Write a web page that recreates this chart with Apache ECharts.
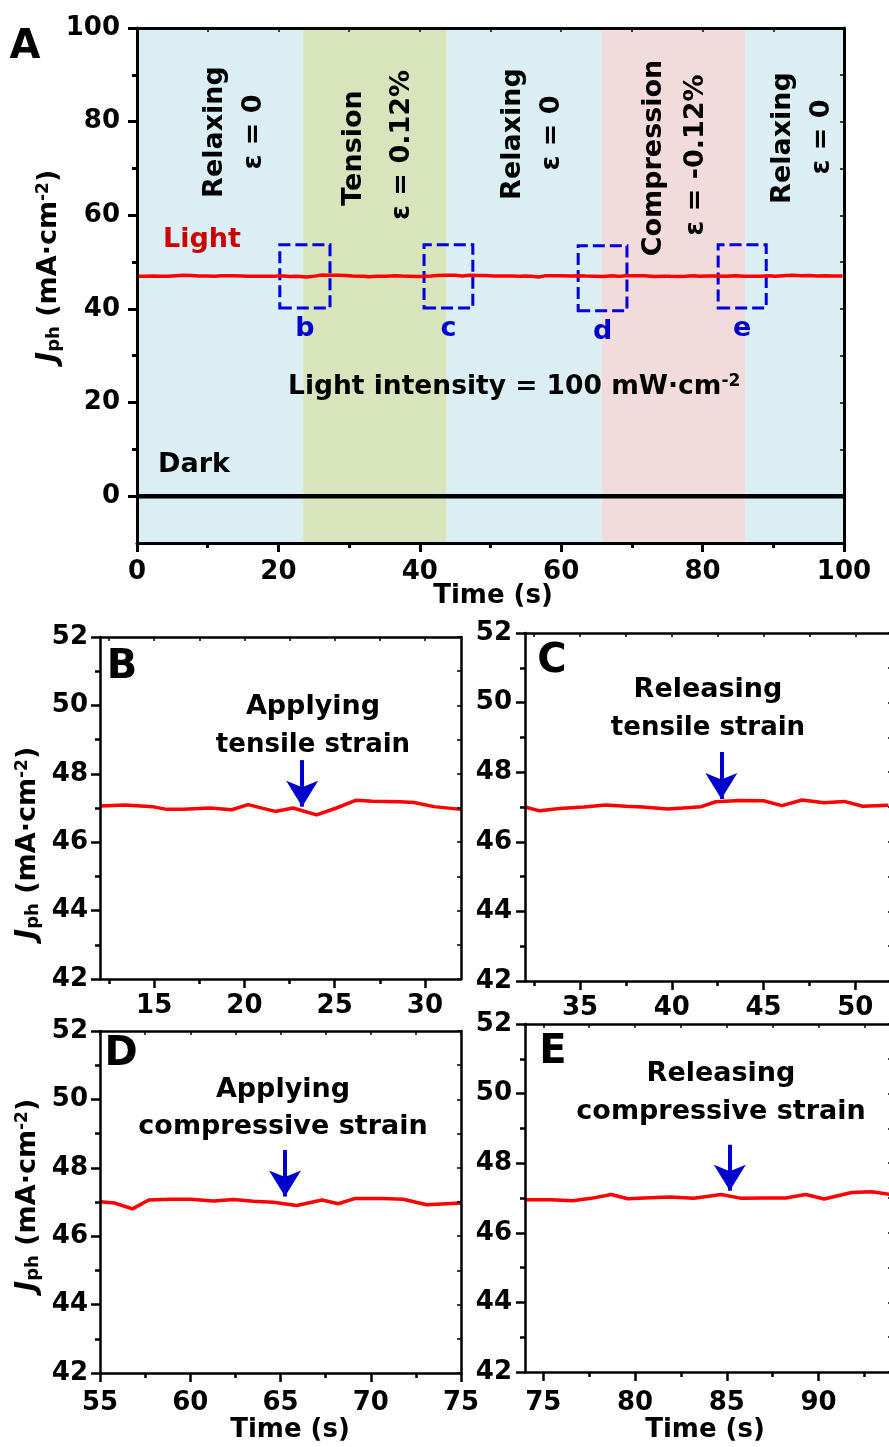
<!DOCTYPE html>
<html>
<head>
<meta charset="utf-8">
<script src="https://cdn.jsdelivr.net/npm/echarts@6/dist/echarts.min.js"></script>
<style>
  html, body { margin: 0; padding: 0; background: #fff; }
  #chart { width: 889px; height: 1447px; }
</style>
</head>
<body>
<div id="chart"></div>
<script>
// ---- data ----
const phaseEdges = [0, 23.5, 43.8, 65.7, 86, 100];
const zoomBoxX = [[20.2, 27.3], [40.6, 47.5], [62.4, 69.3], [82.2, 89.0]];
const zoomBoxY = [[40.2, 53.7], [40.2, 53.7], [39.6, 53.5], [40.2, 53.7]];
const zoomBoxNames = ['b', 'c', 'd', 'e'];

const time0 = [0, 1.1, 2.2, 3.3, 4.4, 5.5, 6.6, 7.7, 8.8, 9.9, 11.0];
const light0 = [46.95, 47.0, 47.05, 47.0, 47.0, 47.1, 47.2, 47.15, 47.05, 47.05, 47.0];

const timeB = [12.0, 13.4, 14.9, 15.7, 16.6, 18.1, 19.3, 20.2, 21.7, 22.7, 24.0, 25.1, 26.2, 27.1, 28.6, 29.4, 30.5, 32.0];
const lightB = [47.06, 47.09, 47.04, 46.96, 46.96, 47.00, 46.95, 47.10, 46.90, 47.00, 46.80, 47.00, 47.23, 47.20, 47.18, 47.16, 47.04, 46.96];

const timeC = [32.0, 32.8, 33.9, 35.2, 36.4, 37.5, 38.4, 39.8, 40.6, 41.6, 42.4, 43.7, 45.0, 46.0, 47.1, 48.3, 49.4, 50.4, 51.8];
const lightC = [47.00, 46.89, 46.96, 47.00, 47.06, 47.02, 47.00, 46.94, 46.97, 47.01, 47.15, 47.19, 47.18, 47.04, 47.20, 47.12, 47.16, 47.02, 47.05];

const timeGap = [53.0, 54.1];
const lightGap = [47.05, 47.0];

const timeD = [55.0, 55.8, 56.8, 57.7, 58.9, 60.0, 61.3, 62.4, 63.5, 64.6, 65.9, 67.3, 68.2, 69.1, 70.7, 71.8, 73.1, 75.0];
const lightD = [47.01, 46.97, 46.80, 47.06, 47.08, 47.08, 47.03, 47.07, 47.02, 46.99, 46.90, 47.06, 46.95, 47.10, 47.10, 47.08, 46.92, 46.97];

const timeE = [74.0, 75.4, 76.6, 77.6, 78.7, 79.6, 80.8, 81.9, 83.2, 84.7, 85.8, 87.0, 88.2, 89.3, 90.3, 91.8, 92.9, 93.9];
const lightE = [46.95, 46.95, 46.92, 46.99, 47.10, 46.98, 47.01, 47.03, 46.99, 47.10, 46.99, 47.00, 47.00, 47.10, 46.97, 47.16, 47.18, 47.10];

const timeEnd = [95.0, 96.2, 97.4, 98.6, 99.8];
const lightEnd = [47.12, 47.05, 47.10, 47.05, 47.02];

const timeDark = [0, 20, 40, 60, 80, 100];
const darkVals = [0, 0, 0, 0, 0, 0];

// tick values
const xTicksA = [0, 20, 40, 60, 80, 100];
const xMinorA = [10, 30, 50, 70, 90];
const yTicksA = [0, 20, 40, 60, 80, 100];
const yMinorA = [10, 30, 50, 70, 90];
const yTicksZoom = [42, 44, 46, 48, 50, 52];
const yMinorZoom = [43, 45, 47, 49, 51];
const xTicksB = [15, 20, 25, 30];
const xMinorB = [12.5, 17.5, 22.5, 27.5];
const xTicksC = [35, 40, 45, 50];
const xMinorC = [32.5, 37.5, 42.5, 47.5];
const xTicksD = [55, 60, 65, 70, 75];
const xMinorD = [57.5, 62.5, 67.5, 72.5];
const xTicksE = [75, 80, 85, 90];
const xMinorE = [77.5, 82.5, 87.5, 92.5];

// ---- helpers ----
const FONT = 'DejaVu Sans';
const zip = (xs, ys) => xs.map((x, i) => [x, ys[i]]);

const timeA = [].concat(time0, timeB, timeC.slice(1), timeGap, timeD, timeE.slice(1), timeEnd);
const lightA = [].concat(light0, lightB, lightC.slice(1), lightGap, lightD, lightE.slice(1), lightEnd);

const panels = [
  { grid: { left: 137, top: 28, width: 707, height: 515 }, x: [0, 100], xt: xTicksA, xm: xMinorA, y: [-10, 100], yt: yTicksA, ym: yMinorA, lw: 3, xMargin: 16, yMargin: 17 },
  { grid: { left: 100, top: 637, width: 361, height: 342 }, x: [12, 32], xt: xTicksB, xm: xMinorB, y: [42, 52], yt: yTicksZoom, ym: yMinorZoom, lw: 2.5, xMargin: 14, yMargin: 12 },
  { grid: { left: 525, top: 633, width: 367, height: 348 }, x: [32, 52], xt: xTicksC, xm: xMinorC, y: [42, 52], yt: yTicksZoom, ym: yMinorZoom, lw: 2.5, xMargin: 14, yMargin: 13 },
  { grid: { left: 100, top: 1031, width: 361, height: 342 }, x: [55, 75], xt: xTicksD, xm: xMinorD, y: [42, 52], yt: yTicksZoom, ym: yMinorZoom, lw: 2.5, xMargin: 17, yMargin: 12 },
  { grid: { left: 525, top: 1024, width: 367, height: 348 }, x: [74, 94], xt: xTicksE, xm: xMinorE, y: [42, 52], yt: yTicksZoom, ym: yMinorZoom, lw: 2.5, xMargin: 18, yMargin: 13 }
];

function axes(dim, i, p) {
  const range = dim === 'x' ? p.x : p.y;
  const majors = dim === 'x' ? p.xt : p.yt;
  const minors = dim === 'x' ? p.xm : p.ym;
  const pos = dim === 'x' ? ['bottom', 'top'] : ['left', 'right'];
  const line = { color: '#000', width: p.lw };
  const base = { type: 'value', gridIndex: i, min: range[0], max: range[1], z: 10, splitLine: { show: false } };
  return [
    Object.assign({}, base, {
      position: pos[0],
      axisLine: { show: true, onZero: false, lineStyle: line },
      axisTick: { show: true, inside: false, length: 9, customValues: majors, lineStyle: line },
      axisLabel: {
        show: true, customValues: majors, margin: dim === 'x' ? p.xMargin : p.yMargin,
        color: '#000', fontFamily: FONT, fontWeight: 'bold', fontSize: 26
      }
    }),
    Object.assign({}, base, {
      position: pos[0],
      axisLine: { show: false, onZero: false },
      axisTick: { show: true, inside: false, length: 5, customValues: minors, lineStyle: line },
      axisLabel: { show: false }
    }),
    Object.assign({}, base, {
      position: pos[1],
      axisLine: { show: true, onZero: false, lineStyle: line },
      axisTick: { show: true, inside: true, length: 4, customValues: majors.concat(minors), lineStyle: { color: '#000', width: 1.5 } },
      axisLabel: { show: false }
    })
  ];
}

const xAxis = [], yAxis = [];
panels.forEach((p, i) => {
  xAxis.push(...axes('x', i, p));
  yAxis.push(...axes('y', i, p));
});

const bandColors = ['#dbeef4', '#d8e4bc', '#dbeef4', '#f2dcdb', '#dbeef4'];
const bands = bandColors.map((c, i) => [
  { xAxis: phaseEdges[i], itemStyle: { color: c } },
  { xAxis: phaseEdges[i + 1] }
]);

const boxes = zoomBoxNames.map((n, i) => [
  { name: n, coord: [zoomBoxX[i][0], zoomBoxY[i][0]] },
  { coord: [zoomBoxX[i][1], zoomBoxY[i][1]] }
]);

const redLine = { color: '#ff0000', width: 3.5 };
const blue = '#0000cc';

const series = [
  {
    type: 'line', xAxisIndex: 0, yAxisIndex: 0, data: [], z: 1, silent: true,
    markArea: { silent: true, data: bands }
  },
  {
    name: 'Dark', type: 'line', xAxisIndex: 0, yAxisIndex: 0, z: 3,
    data: zip(timeDark, darkVals), showSymbol: false, lineStyle: { color: '#000', width: 4.5 }
  },
  {
    name: 'Light', type: 'line', xAxisIndex: 0, yAxisIndex: 0, z: 4,
    data: zip(timeA, lightA), showSymbol: false, lineStyle: redLine
  },
  {
    type: 'line', xAxisIndex: 0, yAxisIndex: 0, data: [], z: 5, silent: true,
    markArea: {
      silent: true,
      itemStyle: { color: 'rgba(0,0,0,0)', borderColor: '#0000dd', borderWidth: 3, borderType: [12, 5] },
      label: { show: true, position: 'bottom', distance: 6, color: blue, fontFamily: FONT, fontWeight: 'bold', fontSize: 27 },
      data: boxes
    }
  }
];

// arrows: [time, shaft top, tip]
const zoomSets = [[timeB, lightB], [timeC, lightC], [timeD, lightD], [timeE, lightE]];
const arrows = [[23.2, 48.4, 47.04], [42.7, 48.58, 47.23], [65.25, 48.52, 47.16], [85.16, 48.53, 47.21]];
zoomSets.forEach((s, k) => {
  const i = k + 1;
  series.push({
    type: 'line', xAxisIndex: 3 * i, yAxisIndex: 3 * i, z: 4,
    data: zip(s[0], s[1]), showSymbol: false, lineStyle: redLine,
    markLine: {
      silent: true, symbol: ['none', 'arrow'], symbolSize: [24, 26],
      lineStyle: { color: blue, width: 4, type: 'solid' },
      label: { show: false },
      data: [[{ coord: [arrows[k][0], arrows[k][1]] }, { coord: [arrows[k][0], arrows[k][2]] }]]
    }
  });
});

// ---- annotations ----
function txt(x, y, text, opts) {
  return {
    type: 'text', x: x, y: y, rotation: (opts && opts.rot) || 0, z: 20,
    style: Object.assign({
      text: text, fill: '#000', fontFamily: FONT, fontWeight: 'bold', fontSize: 27,
      align: 'center', verticalAlign: 'middle'
    }, (opts && opts.style) || {})
  };
}
const R = Math.PI / 2;
const jphRich = {
  j: { fontFamily: FONT, fontWeight: 'bold', fontStyle: 'italic', fontSize: 28, fill: '#000' },
  s: { fontFamily: FONT, fontWeight: 'bold', fontSize: 18, fill: '#000', verticalAlign: 'bottom' },
  n: { fontFamily: FONT, fontWeight: 'bold', fontSize: 27, fill: '#000' },
  p: { fontFamily: FONT, fontWeight: 'bold', fontSize: 17, fill: '#000', verticalAlign: 'top' }
};
const jphText = '{j|J}{s|ph}{n| (mA·cm}{p|-2}{n|)}';

const graphic = [
  txt(25, 48, 'A', { style: { fontSize: 40 } }),
  txt(122, 668, 'B', { style: { fontSize: 40 } }),
  txt(552, 662, 'C', { style: { fontSize: 40 } }),
  txt(121, 1055, 'D', { style: { fontSize: 40 } }),
  txt(553, 1053, 'E', { style: { fontSize: 40 } }),

  txt(163, 240, 'Light', { style: { align: 'left', fill: '#cc0000' } }),
  txt(158, 465, 'Dark', { style: { align: 'left' } }),
  txt(288, 387, '{a|Light intensity = 100 mW·cm}{b|-2}', {
    style: {
      align: 'left',
      rich: {
        a: { fontFamily: FONT, fontWeight: 'bold', fontSize: 26.5, fill: '#000' },
        b: { fontFamily: FONT, fontWeight: 'bold', fontSize: 17, fill: '#000', verticalAlign: 'top' }
      }
    }
  }),

  txt(215, 132, 'Relaxing', { rot: R }),
  txt(254, 132, 'ε = 0', { rot: R }),
  txt(354, 148, 'Tension', { rot: R }),
  txt(402, 145, 'ε = 0.12%', { rot: R }),
  txt(513, 134, 'Relaxing', { rot: R }),
  txt(552, 133, 'ε = 0', { rot: R }),
  txt(654, 158, 'Compression', { rot: R }),
  txt(696, 155, 'ε = -0.12%', { rot: R }),
  txt(783, 138, 'Relaxing', { rot: R }),
  txt(822, 137, 'ε = 0', { rot: R }),

  txt(313, 707, 'Applying', { style: { fontSize: 27 } }),
  txt(313, 745, 'tensile strain', { style: { fontSize: 26 } }),
  txt(708, 690, 'Releasing', { style: { fontSize: 27 } }),
  txt(708, 728, 'tensile strain', { style: { fontSize: 26 } }),
  txt(283, 1090, 'Applying', { style: { fontSize: 27 } }),
  txt(283, 1127, 'compressive strain', { style: { fontSize: 27 } }),
  txt(721, 1074, 'Releasing', { style: { fontSize: 27 } }),
  txt(721, 1112, 'compressive strain', { style: { fontSize: 27 } }),

  txt(493, 596, 'Time (s)', { style: { fontSize: 26 } }),
  txt(290, 1430, 'Time (s)', { style: { fontSize: 26 } }),
  txt(705, 1430, 'Time (s)', { style: { fontSize: 26 } }),

  txt(49, 266, jphText, { rot: R, style: { rich: jphRich } }),
  txt(28, 843, jphText, { rot: R, style: { rich: jphRich } }),
  txt(28, 1195, jphText, { rot: R, style: { rich: jphRich } })
];

const chart = echarts.init(document.getElementById('chart'));
chart.setOption({
  animation: false,
  backgroundColor: '#fff',
  grid: panels.map(p => Object.assign({ containLabel: false, outerBoundsMode: 'none' }, p.grid)),
  xAxis: xAxis,
  yAxis: yAxis,
  series: series,
  graphic: graphic
});
</script>
</body>
</html>
